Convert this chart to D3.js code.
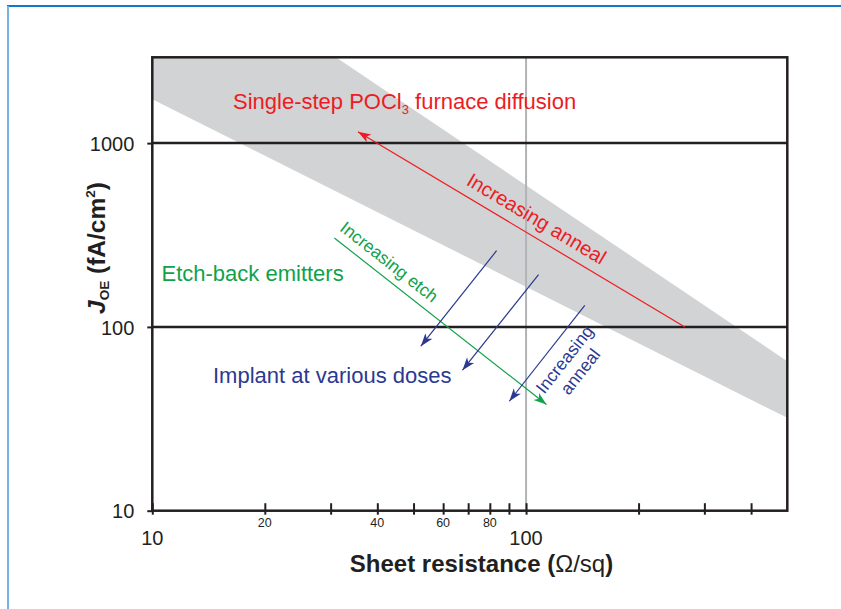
<!DOCTYPE html>
<html>
<head>
<meta charset="utf-8">
<script src="https://cdn.jsdelivr.net/npm/d3@7"></script>
<style>
  html, body { margin: 0; padding: 0; background: #fff; }
  svg { display: block; font-family: "Liberation Sans", Arial, sans-serif; }
</style>
</head>
<body>
<svg id="chart" width="841" height="609"></svg>
<script>
// Axis ranges (sheet resistance in ohm/sq, J_OE in fA/cm2)
const xDomain = [10, 500];
const yDomain = [10, 2930];
const xTicks = [10, 20, 30, 40, 50, 60, 70, 80, 90, 100, 200, 300, 400];
const xSmallLabels = [20, 40, 60, 80];
const xLargeLabels = [10, 100];
const yTicks = [10, 100, 1000];
const yGridLines = [100, 1000];
const xGridLines = [100];

// Grey band: typical POCl3 furnace-diffused emitters [sheet resistance, J_OE]
const bandPoints = [[10, 2930], [31.0, 2930], [500, 65], [500, 32], [10, 1734]];

// Trend arrows: [from, to] in data coordinates
const annealArrow = [[266, 100], [35.5, 1152]];
const etchArrow = [[30.7, 304.6], [113.4, 37.8]];
const implantArrows = [
  [[83.4, 259.8], [52.3, 78.5]],
  [[108, 192.4], [67.6, 58.1]],
  [[143.6, 131.1], [90.2, 39.4]]
];

const RED = "#ed1c24", GREEN = "#10a24a", BLUE = "#2b3990";

const svg = d3.select("#chart");

// page frame
svg.append("line").attr("x1", 7).attr("x2", 841).attr("y1", 6).attr("y2", 6)
  .attr("stroke", "#1177c6").attr("stroke-width", 2);
svg.append("line").attr("x1", 8).attr("x2", 8).attr("y1", 6).attr("y2", 609)
  .attr("stroke", "#72b5e4").attr("stroke-width", 2);

const x = d3.scaleLog().domain(xDomain).range([152.3, 787.3]);
const y = d3.scaleLog().domain(yDomain).range([510.7, 57.3]);
const [x0, x1] = x.range();
const [y0, y1] = y.range();

const defs = svg.append("defs");
defs.append("clipPath").attr("id", "plotClip")
  .append("rect").attr("x", x0).attr("y", y1).attr("width", x1 - x0).attr("height", y0 - y1);

function marker(id, color) {
  defs.append("marker").attr("id", id)
    .attr("viewBox", "-14 -6 16 12")
    .attr("markerUnits", "userSpaceOnUse")
    .attr("markerWidth", 16).attr("markerHeight", 12)
    .attr("refX", 0).attr("refY", 0)
    .attr("orient", "auto")
    .append("path").attr("d", "M0,0 L-13,-4.5 L-9.5,0 L-13,4.5 Z").attr("fill", color);
}
marker("arrRed", RED);
marker("arrGreen", GREEN);
marker("arrBlue", BLUE);

const plot = svg.append("g").attr("clip-path", "url(#plotClip)");

// band
plot.append("path")
  .attr("d", d3.line().x(d => x(d[0])).y(d => y(d[1]))(bandPoints) + "Z")
  .attr("fill", "#d1d3d4");

// grid lines
plot.selectAll(".vgrid").data(xGridLines).join("line")
  .attr("x1", d => x(d)).attr("x2", d => x(d)).attr("y1", y1).attr("y2", y0)
  .attr("stroke", "#b1b3b6").attr("stroke-width", 2);
plot.selectAll(".hgrid").data(yGridLines).join("line")
  .attr("x1", x0).attr("x2", x1).attr("y1", d => y(d)).attr("y2", d => y(d))
  .attr("stroke", "#231f20").attr("stroke-width", 2.5);

// arrows
function arrow(a, color, id) {
  svg.append("line")
    .attr("x1", x(a[0][0])).attr("y1", y(a[0][1]))
    .attr("x2", x(a[1][0])).attr("y2", y(a[1][1]))
    .attr("stroke", color).attr("stroke-width", 1.2)
    .attr("marker-end", `url(#${id})`);
}
arrow(annealArrow, RED, "arrRed");
arrow(etchArrow, GREEN, "arrGreen");
implantArrows.forEach(a => arrow(a, BLUE, "arrBlue"));

// label placed along an arrow: t = fraction from start, off = perpendicular offset
function alongLabel(a, t, off, lines, color, size, gap, flip) {
  let ax = x(a[0][0]), ay = y(a[0][1]), bx = x(a[1][0]), by = y(a[1][1]);
  if (flip) { [ax, ay, bx, by] = [bx, by, ax, ay]; }
  const ang = Math.atan2(by - ay, bx - ax) * 180 / Math.PI;
  const px = ax + (bx - ax) * t, py = ay + (by - ay) * t;
  const g = svg.append("g").attr("transform", `translate(${px},${py}) rotate(${ang})`);
  lines.forEach((s, i) => {
    g.append("text").attr("x", 0).attr("y", off + i * gap)
      .attr("text-anchor", "middle").attr("fill", color)
      .attr("font-size", size).text(s);
  });
}
alongLabel(annealArrow, 0.52, -10, ["Increasing anneal"], RED, 20, 0, true);
alongLabel(etchArrow, 0.215, -9, ["Increasing etch"], GREEN, 17.5, 0, false);
alongLabel(implantArrows[2], 0.55, 23.5, ["Increasing", "anneal"], BLUE, 17.5, 20, true);

// plot frame
svg.append("rect").attr("x", x0).attr("y", y1).attr("width", x1 - x0).attr("height", y0 - y1)
  .attr("fill", "none").attr("stroke", "#231f20").attr("stroke-width", 2.5);

// x axis ticks crossing the baseline
const xAxis = svg.append("g").attr("transform", `translate(0,${y0})`)
  .call(d3.axisBottom(x).tickValues(xTicks).tickSizeInner(-7.5).tickSizeOuter(0).tickFormat(""));
xAxis.select(".domain").remove();
xAxis.selectAll(".tick line").attr("y1", 4).attr("stroke", "#231f20").attr("stroke-width", 2);

svg.selectAll(".xsmall").data(xSmallLabels).join("text")
  .attr("x", d => x(d)).attr("y", y0 + 16.5)
  .attr("text-anchor", "middle").attr("font-size", 12.5).attr("fill", "#231f20")
  .text(d => d);
svg.selectAll(".xlarge").data(xLargeLabels).join("text")
  .attr("x", d => x(d)).attr("y", y0 + 34.5)
  .attr("text-anchor", "middle").attr("font-size", 20).attr("fill", "#231f20")
  .text(d => d);

// y axis
const yAxis = svg.append("g").attr("transform", `translate(${x0},0)`)
  .call(d3.axisLeft(y).tickValues(yTicks).tickSizeInner(5).tickSizeOuter(0).tickPadding(13)
    .tickFormat(d3.format("d")));
yAxis.select(".domain").remove();
yAxis.selectAll(".tick line").attr("stroke", "#231f20").attr("stroke-width", 2);
yAxis.selectAll(".tick text").attr("font-size", 20).attr("fill", "#231f20")
  .attr("font-family", "'Liberation Sans', Arial, sans-serif").attr("dy", "0.36em");

// axis titles
const xt = svg.append("text").attr("x", 481.5).attr("y", 572).attr("text-anchor", "middle")
  .attr("font-size", 24).attr("font-weight", "bold").attr("fill", "#231f20");
xt.append("tspan").text("Sheet resistance (");
xt.append("tspan").attr("font-weight", "normal").text("Ω/sq");
xt.append("tspan").text(")");

const yt = svg.append("text").attr("transform", "translate(104.5,248) rotate(-90)")
  .attr("text-anchor", "middle").attr("font-size", 24.5).attr("font-weight", "bold").attr("fill", "#231f20");
yt.append("tspan").attr("font-style", "italic").text("J");
yt.append("tspan").attr("font-size", 13.5).attr("dy", 4).text("OE");
yt.append("tspan").attr("dy", -4).text(" (fA/cm");
yt.append("tspan").attr("font-size", 13.5).attr("dy", -9.5).text("2");
yt.append("tspan").attr("dy", 9.5).text(")");

// group labels
const t1 = svg.append("text").attr("x", 233).attr("y", 108.5).attr("font-size", 22).attr("fill", RED);
t1.append("tspan").text("Single-step POCl");
t1.append("tspan").attr("font-size", 13).attr("dy", 5).text("3");
t1.append("tspan").attr("dy", -5).text(" furnace diffusion");

svg.append("text").attr("x", 161.5).attr("y", 280.5).attr("font-size", 22).attr("fill", GREEN)
  .text("Etch-back emitters");
svg.append("text").attr("x", 213).attr("y", 383).attr("font-size", 22).attr("fill", BLUE)
  .text("Implant at various doses");
</script>
</body>
</html>
